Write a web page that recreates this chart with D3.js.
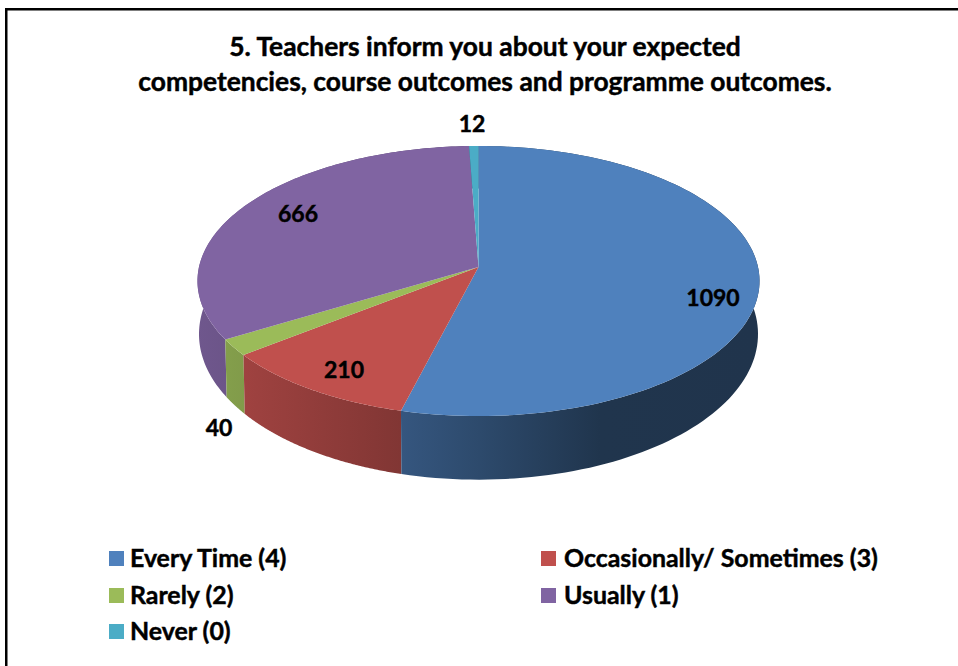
<!DOCTYPE html>
<html><head><meta charset="utf-8">
<script src="https://cdn.jsdelivr.net/npm/d3@7/dist/d3.min.js"></script>
<style>
html,body{margin:0;padding:0;background:#fff;overflow:hidden}
text{font-family:Lato,"Open Sans",sans-serif;font-weight:700;fill:#000;stroke:#000;stroke-width:0.45px}
</style></head><body>
<svg id="c" width="958" height="666"></svg>
<script>
const categories = ["Every Time (4)","Occasionally/ Sometimes (3)","Rarely (2)","Usually (1)","Never (0)"];
const values = [1090,210,40,666,12];
const colors = ["#4f81bd","#c0504d","#9bbb59","#8064a2","#4bacc6"];
const titleLines = ["5. Teachers inform you about your expected","competencies, course outcomes and programme outcomes."];
const labelPos = [[713,298],[344,370],[219,428],[298,214],[472,124]];
const legendPos = [[109,551],[541,551],[109,588],[541,588],[109,624]];

const svg = d3.select("#c");
const defs = svg.append("defs");
const cx = 478.5, k = 0.1037;
const top_ = {a:279.5, b:133.6, y0:267};
const bot = {a:278, b:144, y0:319};
const project = (p,t) => {
  const u = Math.sin(t), v = Math.cos(t), d = 1 + k*v;
  return [cx + p.a*u/d, p.y0 - p.b*v/d];
};
const arcs = d3.pie().sort(null).startAngle(0).endAngle(2*Math.PI)(values);
const samples = (a) => d3.range(0,121).map(i => a.startAngle + (a.endAngle-a.startAngle)*i/120);
const line = d3.line();

// side shading by horizontal position
const shadeX = [197,245,401,480,600,760];
const shadeV = [0.87,0.83,0.67,0.57,0.41,0.40];
colors.forEach((c,i)=>{
  const g = defs.append("linearGradient").attr("id","s"+i).attr("gradientUnits","userSpaceOnUse")
    .attr("x1",197).attr("x2",760).attr("y1",0).attr("y2",0);
  const col = d3.rgb(c);
  shadeX.forEach((x,j)=>{
    const m = shadeV[j];
    g.append("stop").attr("offset",(x-197)/(760-197))
      .attr("stop-color",d3.rgb(col.r*m,col.g*m,col.b*m).formatHex());
  });
});

// walls back to front
[4,3,2,1,0].forEach(i=>{
  const s = samples(arcs[i]);
  const pts = s.map(t=>project(top_,t)).concat(s.slice().reverse().map(t=>project(bot,t)));
  svg.append("path").attr("d",line(pts)+"Z").attr("fill",`url(#s${i})`);
});
// top faces
arcs.forEach((a,i)=>{
  const pts = [[cx,top_.y0]].concat(samples(a).map(t=>project(top_,t)));
  svg.append("path").attr("d",line(pts)+"Z").attr("fill",colors[i]);
});

// frame
svg.append("rect").attr("x",5).attr("y",8).attr("width",953).attr("height",2.5).attr("fill","#000");
svg.append("rect").attr("x",5).attr("y",8).attr("width",2.5).attr("height",658).attr("fill","#000");

// title
svg.selectAll(".t").data(titleLines).enter().append("text").attr("class","t")
  .attr("x",485).attr("y",(d,i)=>56+i*35).attr("text-anchor","middle").attr("font-size",26.4).text(d=>d);

// data labels
svg.selectAll(".l").data(values).enter().append("text").attr("class","l")
  .attr("x",(d,i)=>labelPos[i][0]).attr("y",(d,i)=>labelPos[i][1]).attr("dy","0.36em")
  .attr("text-anchor","middle").attr("font-size",23).text(d=>d);

// legend
const lg = svg.selectAll(".g").data(categories).enter().append("g").attr("class","g")
  .attr("transform",(d,i)=>`translate(${legendPos[i][0]},${legendPos[i][1]})`);
lg.append("rect").attr("width",15).attr("height",15).attr("fill",(d,i)=>colors[i]);
lg.append("text").attr("x",(d,i)=>i%2?23:21).attr("y",15.5).attr("font-size",24.9).text(d=>d);
</script>
</body></html>
